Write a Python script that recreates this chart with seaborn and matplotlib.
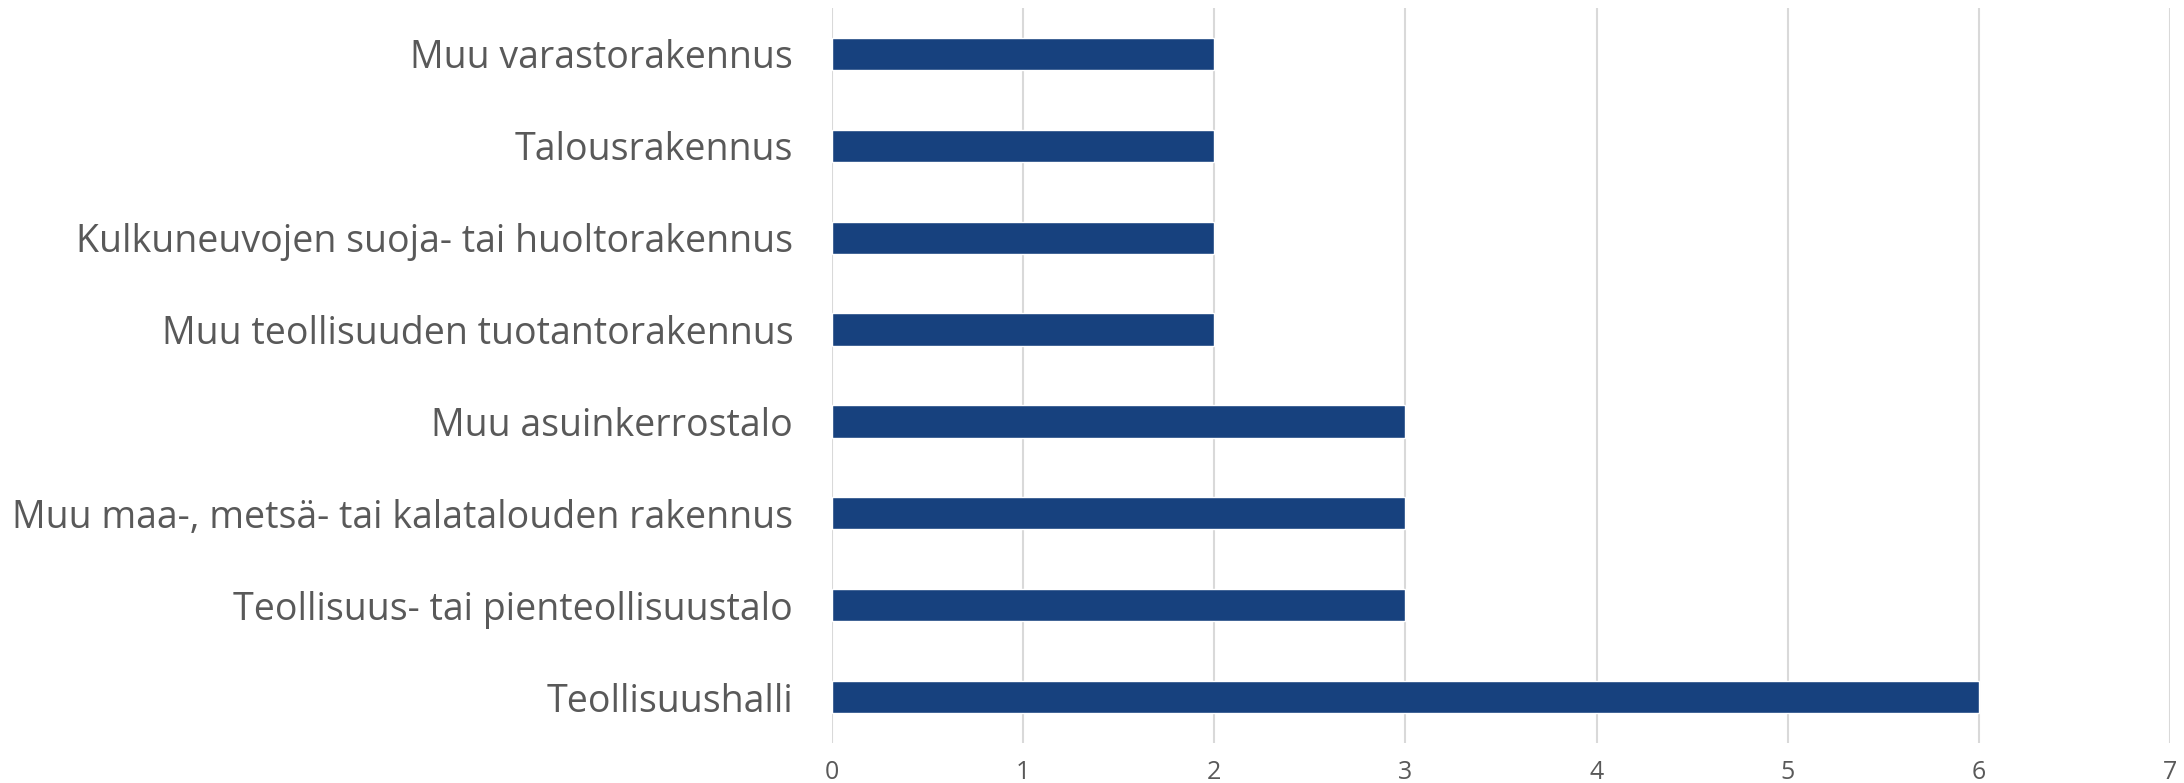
import matplotlib
matplotlib.use("Agg")
import matplotlib.pyplot as plt
import seaborn as sns
import pandas as pd
from matplotlib import font_manager

# Data
categories = [
    "Muu varastorakennus",
    "Talousrakennus",
    "Kulkuneuvojen suoja- tai huoltorakennus",
    "Muu teollisuuden tuotantorakennus",
    "Muu asuinkerrostalo",
    "Muu maa-, metsä- tai kalatalouden rakennus",
    "Teollisuus- tai pienteollisuustalo",
    "Teollisuushalli",
]
counts = [2, 2, 2, 2, 3, 3, 3, 6]
x_ticks = [0, 1, 2, 3, 4, 5, 6, 7]

BAR_COLOR = "#17417e"
TEXT_COLOR = "#595959"
GRID_COLOR = "#d9d9d9"

sns.set_theme(style="white")
names = {f.name for f in font_manager.fontManager.ttflist}
family = "Liberation Sans Narrow" if "Liberation Sans Narrow" in names else "Open Sans"
plt.rcParams["font.family"] = [family, "DejaVu Sans"]

df = pd.DataFrame({"category": categories, "count": counts})

fig = plt.figure(figsize=(21.84, 7.83), dpi=100)
ax = fig.add_axes([0.381, 0.0511, 0.6126, 0.9387])

sns.barplot(data=df, x="count", y="category", orient="h", color=BAR_COLOR,
            width=0.35, saturation=1, ax=ax)

ax.set_xlim(0, 7)
ax.set_xticks(x_ticks)
ax.set_xticklabels([str(t) for t in x_ticks])
ax.set_xlabel("")
ax.set_ylabel("")
ax.grid(axis="x", color=GRID_COLOR, linewidth=1.5)
ax.set_axisbelow(True)
for s in ax.spines.values():
    s.set_visible(False)

ax.tick_params(axis="x", length=0, pad=12, labelsize=18, labelcolor=TEXT_COLOR)
ax.tick_params(axis="y", length=0, pad=28, labelsize=27, labelcolor=TEXT_COLOR)

fig.savefig("out.png", dpi=100)
